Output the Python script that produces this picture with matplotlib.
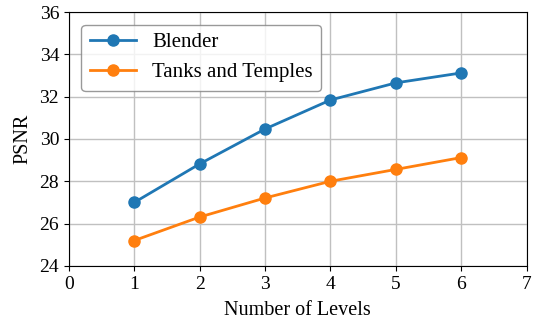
import matplotlib
matplotlib.use('Agg')
from matplotlib import pyplot as plt

# Data
levels = [1, 2, 3, 4, 5, 6]
blender_psnr = [27.0, 28.82, 30.47, 31.84, 32.65, 33.12]
tanks_psnr = [25.2, 26.31, 27.21, 28.0, 28.56, 29.12]

plt.rcParams['font.family'] = ['Liberation Serif', 'DejaVu Serif']
plt.rcParams['font.size'] = 15

fig = plt.figure(figsize=(5.34, 3.2), dpi=100)
ax = fig.add_axes([0.129, 0.169, 0.857, 0.7935])

ax.plot(levels, blender_psnr, marker='o', color='#1f77b4', linewidth=2,
        markersize=8, label='Blender')
ax.plot(levels, tanks_psnr, marker='o', color='#ff7f0e', linewidth=2,
        markersize=8, label='Tanks and Temples')

ax.set_xlim(0, 7)
ax.set_ylim(24, 36)
ax.set_xticks(range(0, 8))
ax.set_yticks(range(24, 37, 2))
ax.tick_params(labelsize=14)
ax.grid(True, color='#c0c0c0', linewidth=1)
ax.set_axisbelow(True)

ax.set_xlabel('Number of Levels', fontsize=14.5, labelpad=6)
ax.set_ylabel('PSNR', fontsize=14.5, labelpad=5)
ax.legend(loc='upper left', frameon=True, edgecolor='#808080', fancybox=True,
          handlelength=2.2, borderaxespad=0.6)

fig.savefig('out.png', dpi=100)
